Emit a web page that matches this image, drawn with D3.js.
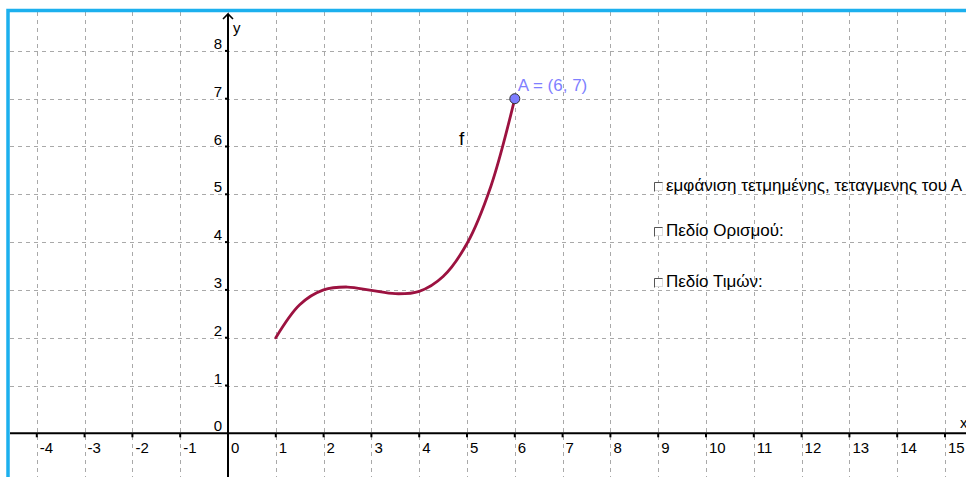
<!DOCTYPE html>
<html>
<head>
<meta charset="utf-8">
<script src="https://cdn.jsdelivr.net/npm/d3@7"></script>
<style>
  html, body { margin: 0; padding: 0; background: #fff; }
  svg { display: block; }
  text { font-family: "Liberation Sans", Arial, sans-serif; }
</style>
</head>
<body>
<svg id="chart" width="966" height="477"></svg>
<script>
// ---- data ----
const xTicks = [-4, -3, -2, -1, 0, 1, 2, 3, 4, 5, 6, 7, 8, 9, 10, 11, 12, 13, 14, 15];
const yTicks = [0, 1, 2, 3, 4, 5, 6, 7, 8];
const curveX = [1, 1.5, 2, 2.5, 3, 3.5, 4, 4.5, 5, 5.5, 6];
const curveY = [2, 2.69, 3.0, 3.06, 2.99, 2.92, 2.97, 3.28, 3.97, 5.17, 7];
const pointA = [6, 7];
const pointLabel = "A = (6, 7)";
const curveName = "f";
const checkLabels = ["εμφάνιση τετμημένης, τεταγμενης του Α", "Πεδίο Ορισμού:", "Πεδίο Τιμών:"];

(function () {
// ---- layout ----
const W = 966, H = 477;
const unit = 47.8;
const ox = 228, oy = 433.3;
const padL = 10, padT = 12;

const x = d3.scaleLinear().domain([(padL - ox) / unit, (W - ox) / unit]).range([padL, W]);
const y = d3.scaleLinear().domain([(oy - H) / unit, (oy - padT) / unit]).range([H, padT]);

const svg = d3.select("#chart");
svg.append("rect").attr("width", W).attr("height", H).attr("fill", "#fff");

// grid
const grid = svg.append("g").attr("stroke", "#a9a9a9").attr("stroke-width", 1).attr("stroke-dasharray", "4,4");
grid.selectAll("line.v").data(xTicks).join("line")
  .attr("x1", d => Math.round(x(d)) + 0.5).attr("x2", d => Math.round(x(d)) + 0.5)
  .attr("y1", padT).attr("y2", H);
grid.selectAll("line.h").data(yTicks.filter(d => d !== 0)).join("line")
  .attr("y1", d => Math.round(y(d)) + 0.5).attr("y2", d => Math.round(y(d)) + 0.5)
  .attr("x1", padL).attr("x2", W);

// axes
const ax = svg.append("g").attr("stroke", "#000").attr("stroke-width", 2).attr("fill", "none");
ax.append("line").attr("x1", padL).attr("x2", W).attr("y1", y(0)).attr("y2", y(0));
ax.append("line").attr("x1", x(0)).attr("x2", x(0)).attr("y1", H).attr("y2", padT + 2);
ax.append("path").attr("stroke-width", 1.6)
  .attr("d", `M${x(0) - 5},${padT + 7} L${x(0)},${padT + 2} L${x(0) + 5},${padT + 7}`);
// ticks
ax.selectAll("line.tx").data(xTicks.filter(d => d !== 0)).join("line")
  .attr("x1", d => x(d)).attr("x2", d => x(d)).attr("y1", y(0)).attr("y2", y(0) + 4);
ax.selectAll("line.ty").data(yTicks.filter(d => d !== 0)).join("line")
  .attr("y1", d => y(d)).attr("y2", d => y(d)).attr("x1", x(0) - 3).attr("x2", x(0));

// tick labels
const lab = svg.append("g").attr("font-size", 15).attr("fill", "#000");
lab.selectAll("text.xl").data(xTicks).join("text")
  .attr("x", d => x(d) + 3).attr("y", y(0) + 20).text(d => d);
lab.selectAll("text.yl").data(yTicks).join("text")
  .attr("x", x(0) - 6).attr("y", d => y(d) - 2).attr("text-anchor", "end").text(d => d);
lab.append("text").attr("x", x(0) + 5).attr("y", padT + 21).text("y");
lab.append("text").attr("x", W - 6).attr("y", y(0) - 5).text("x");

// curve
const pts = curveX.map((d, i) => [d, curveY[i]]);
svg.append("path").datum(pts)
  .attr("fill", "none").attr("stroke", "#9c1240").attr("stroke-width", 2.8)
  .attr("stroke-linecap", "round")
  .attr("d", d3.line().x(d => x(d[0])).y(d => y(d[1])).curve(d3.curveCatmullRom.alpha(0.5)));

svg.append("text").attr("x", 459).attr("y", 145).attr("font-size", 19).text(curveName);

// point A
svg.append("circle").attr("cx", x(pointA[0])).attr("cy", y(pointA[1])).attr("r", 5)
  .attr("fill", "#7c7cff").attr("stroke", "#333").attr("stroke-width", 1);
svg.append("text").attr("x", x(pointA[0]) + 3).attr("y", y(pointA[1]) - 8)
  .attr("font-size", 17).attr("fill", "#7f7fff").text(pointLabel);

// checkboxes
const cbY = [191, 236, 287];
const cb = svg.append("g");
checkLabels.forEach((t, i) => {
  const by = cbY[i];
  cb.append("rect").attr("x", 654.5).attr("y", by - 8.5).attr("width", 8).attr("height", 8)
    .attr("fill", "#fff").attr("stroke", "#ddd");
  cb.append("path").attr("d", `M654.5,${by + 0.5} V${by - 8.5} H662.5`).attr("fill", "none").attr("stroke", "#555");
  cb.append("text").attr("x", 666).attr("y", by).attr("font-size", 17).attr("fill", "#000").text(t);
});

// blue frame (left and top)
svg.append("path").attr("d", `M8,${H} V10.5 H${W}`).attr("fill", "none")
  .attr("stroke", "#1cb0ee").attr("stroke-width", 3.5);
})();
</script>
</body>
</html>
